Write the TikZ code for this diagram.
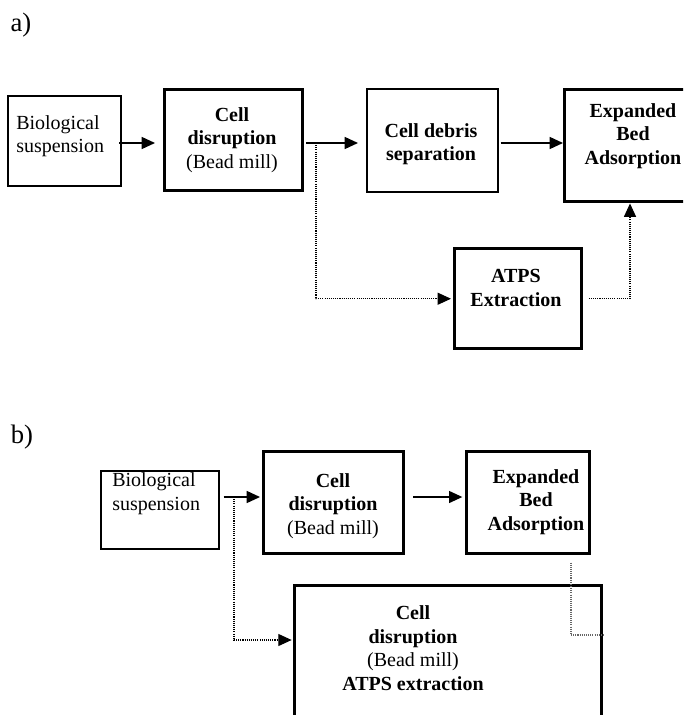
\documentclass[tikz,border=0pt]{standalone}
\usepackage{fontspec}
\setmainfont{Liberation Serif}
\usetikzlibrary{arrows.meta}

\newcommand{\boxfont}{\fontsize{15}{17.6}\selectfont}
\newcommand{\partfont}{\fontsize{20}{24}\selectfont}

\tikzset{
  thinbox/.style={draw, line width=1.3pt, inner sep=0pt, anchor=north west},
  midbox/.style={draw, line width=1.9pt, inner sep=0pt, anchor=north west},
  thickbox/.style={draw, line width=2.6pt, inner sep=0pt, anchor=north west},
  txt/.style={align=center, inner sep=0pt, font=\boxfont\bfseries},
  plaintxt/.style={align=left, inner sep=0pt, anchor=west, font=\boxfont},
  flow/.style={-{Triangle[length=10pt,width=9pt]}, line width=1.1pt},
  side/.style={-{Triangle[length=10pt,width=9pt]}, line width=0.8pt, dash pattern=on 0.8pt off 0.8pt},
  sidegray/.style={line width=0.8pt, black!60, dash pattern=on 0.8pt off 0.8pt}
}

\begin{document}
\begin{tikzpicture}[x=0.75pt,y=-0.75pt]
\clip (0,0) rectangle (683,715);

% a)
\node[font=\partfont, inner sep=0pt] (lblA) at (21,25) {a)};
\node[thinbox, minimum width=84.75pt, minimum height=67.5pt] (bioA) at (7,95) {};
\node[thickbox, minimum width=103.5pt, minimum height=75.75pt] (cellA) at (163,88) {};
\node[thinbox, minimum width=98.25pt, minimum height=77.25pt] (debrisA) at (366,88) {};
\node[thickbox, minimum width=106.5pt, minimum height=84pt] (ebaA) at (563,88) {};
\node[thickbox, minimum width=95.25pt, minimum height=75pt] (atpsA) at (453,247) {};

\node[plaintxt] (bioAtxt) at (16,136) {Biological\\suspension};
\node[txt] (cellAtxt) at (232,140) {Cell\\disruption\\{\mdseries (Bead mill)}};
\node[txt] (debrisAtxt) at (431,144) {Cell debris\\separation};
\node[txt] (ebaAtxt) at (633,136) {Expanded\\Bed\\Adsorption};
\node[txt] (atpsAtxt) at (516,288) {ATPS\\Extraction};

\coordinate (rowA) at (0,143);
\coordinate (splitA) at (316,143);
\coordinate (riseA) at (630,0);
\draw[flow, shorten <=-2pt, shorten >=6pt] (bioA.east |- rowA) -- (cellA.west |- rowA);
\draw[flow, shorten <=1.5pt, shorten >=6pt] (cellA.east |- rowA) -- (debrisA.west |- rowA);
\draw[flow, shorten <=1.5pt] (debrisA.east |- rowA) -- (ebaA.west |- rowA);
\draw[side, shorten >=1.5pt] (splitA) |- (atpsA.west);
\draw[side, shorten <=4pt] (atpsA.east) -| (ebaA.south -| riseA);

% b)
\node[font=\partfont, inner sep=0pt] (lblB) at (22,437) {b)};
\node[thinbox, minimum width=88.5pt, minimum height=58.5pt] (bioB) at (100,470) {};
\node[thickbox, minimum width=105pt, minimum height=76.5pt] (cellB) at (262,450) {};
\node[midbox, minimum width=92.25pt, minimum height=76.5pt] (ebaB) at (465,450) {};
\node[thickbox, minimum width=230.25pt, minimum height=112.5pt] (bigB) at (293,584) {};

\node[plaintxt] (bioBtxt) at (112,493.5) {Biological\\suspension};
\node[txt] (cellBtxt) at (333,506) {Cell\\disruption\\{\mdseries (Bead mill)}};
\node[txt] (ebaBtxt) at (536,502) {Expanded\\Bed\\Adsorption};
\node[txt] (bigBtxt) at (413,648) {Cell\\disruption\\{\mdseries (Bead mill)}\\ATPS extraction};

\coordinate (rowB) at (0,497);
\coordinate (splitB) at (234,497);
\coordinate (sideB) at (0,640);
\coordinate (dropB) at (571,0);
\coordinate (joinB) at (0,635);
\draw[flow, shorten <=3pt, shorten >=1.5pt] (bioB.east |- rowB) -- (cellB.west |- rowB);
\draw[flow, shorten <=6pt, shorten >=2pt] (cellB.east |- rowB) -- (ebaB.west |- rowB);
\draw[side, shorten >=1pt] (splitB) |- (bigB.west |- sideB);
\draw[sidegray, shorten <=6pt] (ebaB.south -| dropB) |- (bigB.east |- joinB);
\end{tikzpicture}
\end{document}
